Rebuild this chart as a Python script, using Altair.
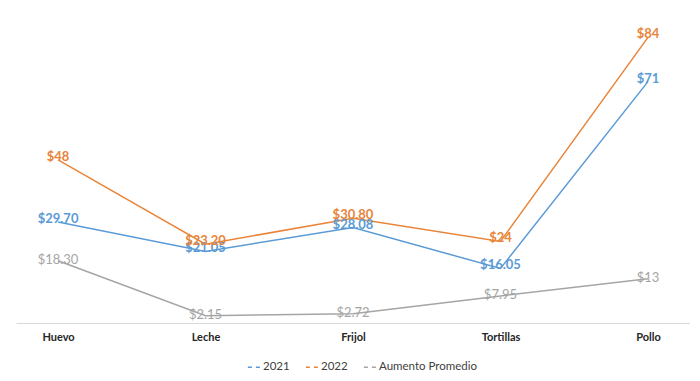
import altair as alt
import pandas as pd

categories = ["Huevo", "Leche", "Frijol", "Tortillas", "Pollo"]
series_names = ["2021", "2022", "Aumento Promedio"]
v2021 = [29.70, 21.05, 28.08, 16.05, 71]
v2022 = [48, 23.20, 30.80, 24, 84]
aumento = [18.30, 2.15, 2.72, 7.95, 13]
colors = ["#5b9bd5", "#e8853a", "#a5a5a5"]

rows = []
for name, vals in zip(series_names, [v2021, v2022, aumento]):
    for c, v in zip(categories, vals):
        rows.append({"producto": c, "serie": name, "valor": v})
df = pd.DataFrame(rows)

x = alt.X("producto:N", sort=categories, title=None,
          scale=alt.Scale(type="point", padding=0.285),
          axis=alt.Axis(labelAngle=0, labelFont="Lato", labelFontSize=11, labelFontWeight="bold",
                        labelColor="#262626", domainColor="#d9d9d9", ticks=False, labelPadding=8))
y = alt.Y("valor:Q", scale=alt.Scale(domain=[0, 90], nice=False), axis=None)
color = alt.Color("serie:N", sort=series_names,
                  scale=alt.Scale(domain=series_names, range=colors),
                  legend=alt.Legend(title=None, orient="none", direction="horizontal",
                                    legendX=231, legendY=343,
                                    symbolType="stroke", symbolStrokeWidth=1.5, symbolSize=150,
                                    symbolDash=[4, 4],
                                    labelFont="Lato", labelFontSize=11.5, labelColor="#404040",
                                    columnPadding=12, labelOffset=2))

lines = alt.Chart(df).mark_line(strokeWidth=1.5).encode(x=x, y=y, color=color)

text_base = alt.Chart(df).transform_calculate(
    etiqueta="datum.valor == floor(datum.valor) ? '$' + format(datum.valor, 'd') : '$' + format(datum.valor, '.2f')"
)
lbl_main = text_base.transform_filter("datum.serie != 'Aumento Promedio'").mark_text(
    font="Lato", fontSize=13, fontWeight="bold", baseline="middle", dy=-3
).encode(x=x, y=y, text="etiqueta:N", color=alt.Color("serie:N", scale=alt.Scale(domain=series_names, range=colors), legend=None))
lbl_aum = text_base.transform_filter("datum.serie == 'Aumento Promedio'").mark_text(
    font="Lato", fontSize=13, baseline="middle", dy=-1
).encode(x=x, y=y, text="etiqueta:N", color=alt.Color("serie:N", scale=alt.Scale(domain=series_names, range=colors), legend=None))

chart = alt.layer(lines, lbl_main, lbl_aum).properties(
    width=674, height=306,
    autosize=alt.AutoSizeParams(type="none"),
    padding={"left": 8, "top": 9, "right": 0, "bottom": 50},
    background="white"
).configure_view(stroke=None)

chart.save("out.html", embed_options={"renderer": "svg", "actions": False})
